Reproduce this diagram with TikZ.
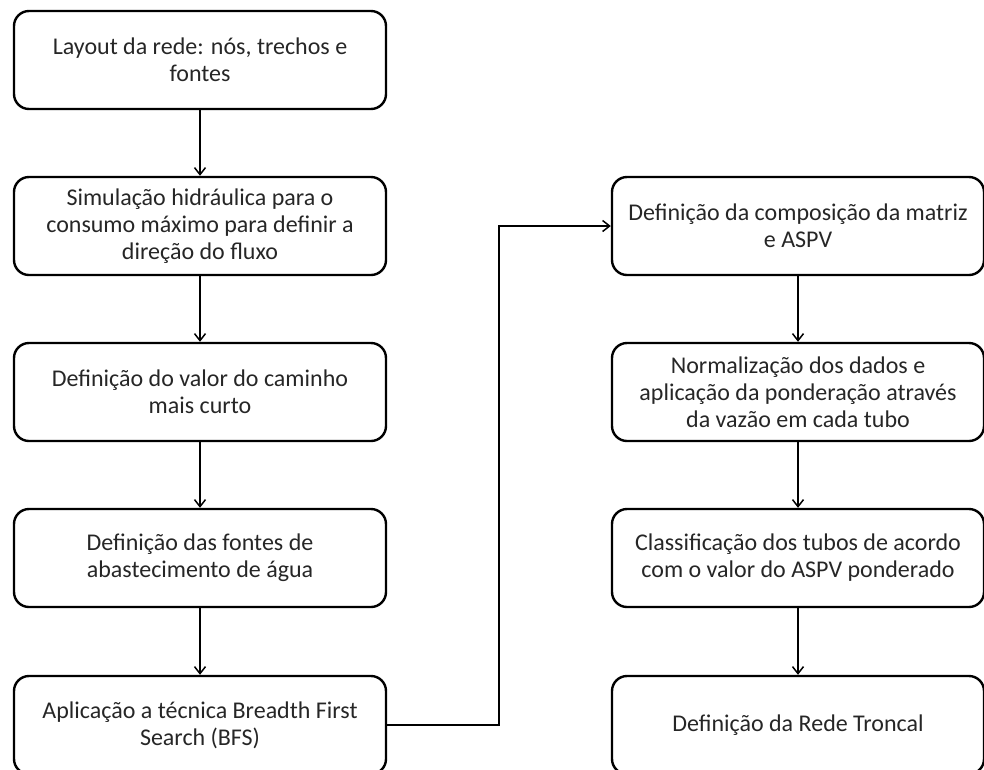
\documentclass[tikz,border=0pt]{standalone}
\usepackage{fontspec}
\setmainfont{Carlito}
\usetikzlibrary{arrows.meta}
\tikzset{
	stepbox/.style={draw,rounded corners=15pt,line width=2.4pt,minimum width=372pt,
		minimum height=98pt,align=center,text=black!85,
		font=\fontsize{24}{27}\selectfont},
}
\begin{document}
\begin{tikzpicture}[x=1pt,y=1pt]
		\useasboundingbox (0,0) rectangle (984,-769);
		\begin{scope}[every node/.style={stepbox}]
			\node (la) at (200,-60) {Layout da rede: nós, trechos e\\fontes};
			\node (lb) at (200,-226) {Simulação hidráulica para o\\consumo máximo para definir a\\direção do fluxo};
			\node (lc) at (200,-392) {Definição do valor do caminho\\mais curto};
			\node (ld) at (200,-558) {Definição das fontes de\\abastecimento de água};
			\node (le) at (200,-725) {Aplicação a técnica Breadth First\\Search (BFS)};

			\node (ra) at (798,-226) {Definição da composição da matriz\\e ASPV};
			\node (rb) at (798,-392) {Normalização dos dados e\\aplicação da ponderação através\\da vazão em cada tubo};
			\node (rc) at (798,-558) {Classificação dos tubos de acordo\\com o valor do ASPV ponderado};
			\node (rd) at (798,-725) {Definição da Rede Troncal};
		\end{scope}
		\coordinate (turn) at (499,-400);
		\begin{scope}[>={Straight Barb[length=7pt,width=11pt]},line width=1.5pt]
			\draw[->] (la) -- (lb);
			\draw[->] (lb) -- (lc);
			\draw[->] (lc) -- (ld);
			\draw[->] (ld) -- (le);

			\draw[->] (le.east) -| (turn) |- (ra.west);

			\draw[->] (ra) -- (rb);
			\draw[->] (rb) -- (rc);
			\draw[->] (rc) -- (rd);
		\end{scope}
	\end{tikzpicture}
\end{document}
